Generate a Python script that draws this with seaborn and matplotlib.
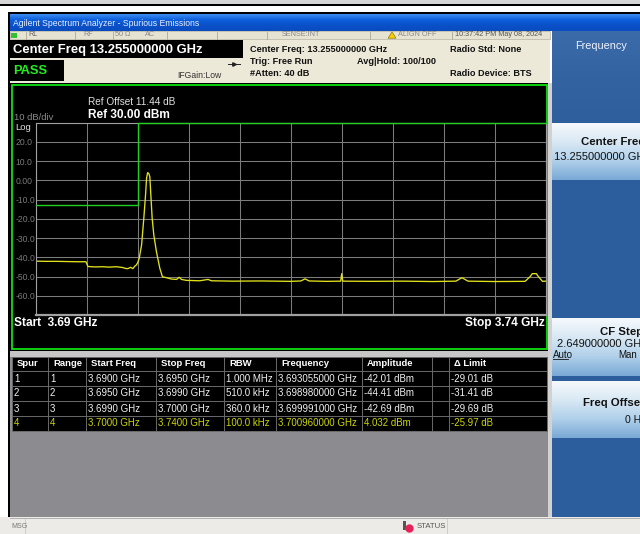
import numpy as np
import seaborn as sns
import matplotlib.pyplot as plt
from matplotlib.patches import Rectangle, Polygon
from matplotlib.colors import LinearSegmentedColormap

# ---- spectrum trace (GHz, dBm) ----
freq_ghz = [3.6900, 3.6910, 3.6920, 3.6930, 3.6940, 3.6949,
            3.6951, 3.6958, 3.6965, 3.6972, 3.6979, 3.6985, 3.6988, 3.6990,
            3.6993, 3.6995, 3.6997, 3.69985, 3.69999,
            3.70013, 3.70036, 3.70058, 3.70075, 3.70085, 3.70094, 3.70096,
            3.70107, 3.70117, 3.70127, 3.70140, 3.70156, 3.70182, 3.70215,
            3.70241, 3.70280, 3.70330, 3.70379, 3.70405, 3.70428, 3.70477,
            3.70607, 3.70689, 3.70720, 3.70934, 3.7120, 3.7150, 3.7160,
            3.7164, 3.7168, 3.7185, 3.7199, 3.7200, 3.7201, 3.7230, 3.7260,
            3.7290, 3.7312, 3.7318, 3.7324, 3.7350, 3.7380, 3.7385, 3.7387,
            3.7391, 3.7393, 3.7397, 3.7400]
amp_dbm = [-42.0, -42.1, -42.1, -42.2, -42.3, -42.3,
           -44.8, -45.0, -44.9, -45.1, -44.9, -45.3, -45.8, -45.9,
           -45.2, -45.9, -44.6, -44.0, -42.7,
           -40.5, -33.6, -19.7, -7.6, 1.1, 3.7, 4.03,
           3.5, 1.9, -7.6, -19.7, -28.4, -37.1, -45.7,
           -50.1, -50.6, -51.3, -51.5, -50.4, -51.5, -52.0,
           -52.2, -51.5, -52.2, -52.4, -52.3, -52.5, -52.3,
           -51.2, -52.3, -52.5, -52.4, -48.5, -52.4, -52.5, -52.4,
           -52.6, -52.4, -50.6, -52.4, -52.6, -52.5, -50.0, -48.5,
           -48.5, -50.0, -52.5, -52.4]

limit_freq = [3.69, 3.70, 3.70, 3.74]
limit_amp = [-13.0, -13.0, 30.0, 30.0]

start_ghz, stop_ghz = 3.69, 3.74
ref_level = 30.0
db_per_div = 10

# ---- spur table ----
headers = ['Spur', 'Range', 'Start Freq', 'Stop Freq', 'RBW', 'Frequency',
           'Amplitude', '', '\u0394 Limit']
spur_no = ['1', '2', '3', '4']
range_no = ['1', '2', '3', '4']
start_freq = ['3.6900 GHz', '3.6950 GHz', '3.6990 GHz', '3.7000 GHz']
stop_freq = ['3.6950 GHz', '3.6990 GHz', '3.7000 GHz', '3.7400 GHz']
rbw = ['1.000 MHz', '510.0 kHz', '360.0 kHz', '100.0 kHz']
spur_freq = ['3.693055000 GHz', '3.698980000 GHz', '3.699991000 GHz', '3.700960000 GHz']
amplitude = ['-42.01 dBm', '-44.41 dBm', '-42.69 dBm', '4.032 dBm']
blank = ['', '', '', '']
delta_limit = ['-29.01 dB', '-31.41 dB', '-29.69 dB', '-25.97 dB']

plt.rcParams['font.family'] = ['Liberation Sans', 'DejaVu Sans']

W, H = 640, 534
fig = plt.figure(figsize=(6.4, 5.34), dpi=100)
fig.patch.set_facecolor('white')
bg = fig.add_axes([0, 0, 1, 1])
bg.axis('off')


def box(x0, y0, x1, y1, fc, ec='none', lw=0, z=1):
    bg.add_patch(Rectangle((x0, y0), x1 - x0, y1 - y0, facecolor=fc,
                           edgecolor=ec, linewidth=lw, zorder=z))


def grad(x0, y0, x1, y1, colors, z=1):
    cm = LinearSegmentedColormap.from_list('g', colors)
    bg.imshow(np.linspace(0, 1, 64).reshape(-1, 1), cmap=cm,
              extent=(x0, x1, y1, y0), aspect='auto', zorder=z,
              interpolation='bilinear')


def txt(x, y, s, size=6.5, color='black', weight='normal', ha='left', z=5, **kw):
    bg.text(x, y, s, fontsize=size, color=color, fontweight=weight,
            ha=ha, va='center', zorder=z, **kw)


# window frame
box(0, 0, W, 4, '#d6d6d6')
box(0, 4, W, 6, 'black')
box(8, 12, W, 14, 'black')
box(8, 12, 10, 517, 'black')

# title bar
grad(10, 14, W, 31, ['#3d8ef2', '#0d5fdc', '#0a50c8', '#0a4cc0'])
txt(13, 23, 'Agilent Spectrum Analyzer - Spurious Emissions', 6.2, '#e8f0ff')

# status row + beige info area
box(10, 31, 550, 83, '#ece9d8')
box(10, 31, 550, 39, '#e6e3d2', ec='#b8b5a4', lw=0.5)
for sx in [26, 75, 113, 167, 217, 267, 370, 452]:
    bg.plot([sx, sx], [31.5, 38.5], color='#aaa79a', lw=0.6, zorder=3)
box(11, 32.5, 17, 38, '#30c030')
txt(28, 35, 'RL', 5.2, '#666666')
txt(83, 35, 'RF', 5.2, '#888888')
txt(115, 35, '50 \u03a9', 5.2, '#888888')
txt(145, 35, 'AC', 5.2, '#888888')
txt(282, 35, 'SENSE:INT', 5.2, '#888888')
bg.add_patch(Polygon([[388, 38.2], [396, 38.2], [392, 31.8]], closed=True,
                     facecolor='#f0d000', edgecolor='#806000', lw=0.4, zorder=4))
txt(398, 35, 'ALIGN OFF', 5.2, '#888888')
txt(455, 35, '10:37:42 PM May 08, 2024', 5.2, '#555555')

box(10, 40, 243, 58, 'black')
txt(13, 49.5, 'Center Freq 13.255000000 GHz', 9.4, 'white', 'bold')
box(10, 60, 64, 81, 'black')
txt(13, 71, 'PASS', 9.3, '#22ee22', 'bold')
txt(177, 76, 'IFGain:Low', 6.2, '#333333')
bg.plot([228, 240], [63.5, 63.5], color='#222222', lw=0.7, zorder=4)
bg.plot([234], [63.5], marker='>', ms=2.5, color='#222222', zorder=4)
txt(250, 50, 'Center Freq: 13.255000000 GHz', 6.6, '#111111', 'bold')
txt(250, 62, 'Trig: Free Run', 6.6, '#111111', 'bold')
txt(250, 73, '#Atten: 40 dB', 6.6, '#111111', 'bold')
txt(357, 62, 'Avg|Hold: 100/100', 6.6, '#111111', 'bold')
txt(450, 50, 'Radio Std: None', 6.6, '#111111', 'bold')
txt(450, 74, 'Radio Device: BTS', 6.6, '#111111', 'bold')

# graph panel
box(10, 83, 548, 351, 'black')
box(12, 85, 547, 349, 'none', ec='#10e010', lw=1.3, z=6)
txt(88, 102, 'Ref Offset 11.44 dB', 7.2, '#e0e0e0')
txt(88, 115, 'Ref 30.00 dBm', 8.6, 'white', 'bold')
txt(14, 117, '10 dB/div', 6.8, '#8a8a8a')
txt(15, 127.5, 'Log', 6.8, '#e0e0e0')
txt(14, 323, 'Start  3.69 GHz', 8.6, 'white', 'bold')
txt(545, 323, 'Stop 3.74 GHz', 8.6, 'white', 'bold', ha='right')

# lower panel and table
box(10, 351, 548, 357, '#c6c6c6')
box(10, 357, 548, 517, '#8c8b8f')
box(548, 83, 552, 517, '#d2d2d2')
col_edges = [12, 48, 86, 156, 224, 276, 362, 432, 449, 547]
row_edges = [357, 371, 386, 401, 416, 431]
box(12, 357, 547, 431, 'black', z=2)
for cx in col_edges:
    bg.plot([cx, cx], [357, 431], color='#6a6a6a', lw=0.7, zorder=3)
for ry in row_edges:
    bg.plot([12, 547], [ry, ry], color='#6a6a6a', lw=0.7, zorder=3)
columns = [spur_no, range_no, start_freq, stop_freq, rbw, spur_freq,
           amplitude, blank, delta_limit]
for c, (head, col) in enumerate(zip(headers, columns)):
    x0 = col_edges[c]
    txt(x0 + 5, 364, head, 6.8, 'white', 'bold')
    for r, val in enumerate(col):
        color = '#cdd600' if r == 3 else '#f0f0f0'
        txt(x0 + 2, (row_edges[r + 1] + row_edges[r + 2]) / 2, val, 7.0, color)

# softkey panel
box(552, 31, W, 517, '#2c5d9d')
grad(552, 31, W, 122, ['#3b6ba9', '#3463a2', '#305f9e'])
txt(575, 46, 'Frequency', 7.8, '#f0f4ff')
btn_colors = ['#f6f9fc', '#d8e8f4', '#b0d0ea', '#7aa9d6']
for y0, y1 in [(123, 180), (318, 376), (381, 438)]:
    grad(552, y0, W, y1, btn_colors, z=2)
txt(581, 142, 'Center Freq', 8.2, '#111111', 'bold', clip_on=True)
txt(554, 157, '13.255000000 GHz', 8.0, '#111111', clip_on=True)
txt(600, 332, 'CF Step', 8.2, '#111111', 'bold', clip_on=True)
txt(557, 344, '2.649000000 GHz', 8.0, '#111111', clip_on=True)
txt(553, 354.5, 'Auto', 7.0, '#111111')
bg.plot([553, 568], [359, 359], color='#111111', lw=0.6, zorder=5)
txt(618, 354.5, 'Man', 7.0, '#111111', clip_on=True)
txt(583, 403, 'Freq Offset', 8.2, '#111111', 'bold', clip_on=True)
txt(625, 420, '0 Hz', 7.6, '#111111', clip_on=True)

# bottom status bar
box(0, 517, W, H, '#ecebe7')
bg.plot([10, W], [517.5, 517.5], color='#a8a8a8', lw=0.6, zorder=3)
bg.plot([25, 25], [519, 533], color='#c8c8c8', lw=0.6, zorder=3)
bg.plot([447, 447], [519, 533], color='#c8c8c8', lw=0.6, zorder=3)
txt(11, 527, 'MSG', 5.0, '#777777')
box(403, 521, 406, 530, '#555555', z=4)
bg.plot([409], [528], marker='o', ms=5, color='#e8205a', zorder=5)
txt(417, 526, 'STATUS', 5.6, '#555555')

bg.set_xlim(0, W)
bg.set_ylim(H, 0)

# spectrum graticule
ax = fig.add_axes([36 / W, 1 - 315 / H, (545.5 - 36) / W, (315 - 122.7) / H])
ax.set_facecolor('black')
sns.lineplot(x=limit_freq, y=limit_amp, ax=ax, color='#22d022', lw=1.0,
             estimator=None, sort=False, legend=False)
ax.lines[-1].set_clip_on(False)
ax.lines[-1].set_zorder(4)
sns.lineplot(x=freq_ghz, y=amp_dbm, ax=ax, color='#e2e21c', lw=0.95,
             estimator=None, sort=False, legend=False)
ax.set_xlim(start_ghz, stop_ghz)
ax.set_ylim(ref_level - 10 * db_per_div, ref_level)
ax.set_xticks(np.linspace(start_ghz, stop_ghz, 11))
yticks = np.arange(ref_level - 10 * db_per_div, ref_level + 1, db_per_div)
ax.set_yticks(yticks)
ylabels = ['' if v in (ref_level, ref_level - 10 * db_per_div)
           else ('0.00' if v == 0 else f'{v:.1f}') for v in yticks]
ax.set_yticklabels(ylabels)
ax.set_axisbelow(True)
ax.grid(True, color='#7c7c7c', lw=0.75)
ax.tick_params(length=0, labelbottom=False, pad=15)
for lbl in ax.get_yticklabels():
    lbl.set_horizontalalignment('left')
    lbl.set_color('#7a7a7a')
    lbl.set_fontsize(6.2)
ax.set_xlabel('')
ax.set_ylabel('')
for side, sp in ax.spines.items():
    sp.set_color('#a0a0a0')
    sp.set_linewidth(1.6 if side == 'bottom' else 0.8)

fig.savefig('out.png', dpi=100, facecolor=fig.get_facecolor())
